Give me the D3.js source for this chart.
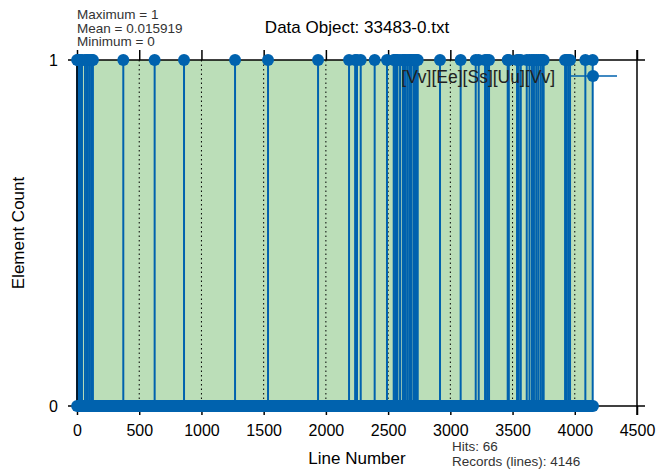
<!DOCTYPE html>
<html>
<head>
<meta charset="utf-8">
<script src="https://cdn.jsdelivr.net/npm/d3@7"></script>
<style>
  body { margin: 0; background: #fff; }
  text { font-family: "Liberation Sans", Arial, Helvetica, sans-serif; }
</style>
</head>
<body>
<svg></svg>
<script>
// line numbers where the element count is 1
const hitLines = [
  1, 8, 24, 40, 64, 80, 88, 104, 120, 128,
  372, 624, 860, 1270, 1535, 1937,
  2186, 2235, 2250, 2280, 2392, 2491,
  2545, 2556, 2565, 2575, 2596, 2618, 2628, 2637, 2653, 2669,
  2678, 2685, 2703, 2712, 2720, 2730, 2738,
  2917, 3083, 3204, 3228, 3279, 3295, 3311,
  3461, 3470, 3536, 3550, 3566, 3614, 3636, 3656, 3672, 3690, 3706, 3724, 3738, 3750,
  3922, 3935, 3948, 3962,
  4085, 4144
];
const recordCount = 4146;
const statLines = ['Maximum = 1', 'Mean = 0.015919', 'Minimum = 0'];
const infoLines = ['Hits: 66', 'Records (lines): 4146'];
const xTicks = [0, 500, 1000, 1500, 2000, 2500, 3000, 3500, 4000, 4500];
const yTicks = [0, 1];
const gridTicks = [500, 1000, 1500, 2000, 2500, 3000, 3500, 4000];

const [svgWidth, svgHeight] = [659, 473];
const [plotL, plotR, plotT, plotB] = [77, 637, 60, 406];
const blue = '#0062ae';
const svg = d3.select('svg')
  .attr('width', svgWidth)
  .attr('height', svgHeight);

const x = d3.scaleLinear().domain([0, 4500]).range([plotL, plotR]);
const y = d3.scaleLinear().domain([0, 1]).range([plotB, plotT]);

// green background for the record span
svg.append('rect')
  .attr('x', x(0))
  .attr('y', y(1))
  .attr('width', x(recordCount) - x(0))
  .attr('height', y(0) - y(1))
  .attr('fill', '#bbdeb8');

// dotted grid
svg.append('g').selectAll('line')
  .data(gridTicks)
  .join('line')
  .attr('x1', d => x(d)).attr('x2', d => x(d))
  .attr('y1', y(1)).attr('y2', y(0))
  .attr('stroke', '#000')
  .attr('stroke-width', 1)
  .attr('stroke-dasharray', '1.5,3');

// stems
svg.append('g').selectAll('line')
  .data(hitLines)
  .join('line')
  .attr('x1', d => x(d)).attr('x2', d => x(d))
  .attr('y1', y(0)).attr('y2', y(1))
  .attr('stroke', blue)
  .attr('stroke-width', 2);

// frame with outward ticks
const frame = svg.append('g').attr('stroke', '#000').attr('stroke-width', 1.5);
frame.append('line').attr('x1', plotL - 9).attr('x2', plotR + 8).attr('y1', plotT).attr('y2', plotT);
frame.append('line').attr('x1', plotL - 9).attr('x2', plotR + 8).attr('y1', plotB).attr('y2', plotB);
frame.append('line').attr('x1', plotL).attr('x2', plotL).attr('y1', plotT).attr('y2', plotB);
frame.append('line').attr('x1', plotR).attr('x2', plotR).attr('y1', plotT - 10).attr('y2', plotB + 9);

const xAxis = svg.append('g')
  .attr('transform', `translate(0, ${plotB})`)
  .call(d3.axisBottom(x).tickValues(xTicks).tickSize(9).tickSizeOuter(0)
    .tickPadding(10).tickFormat(d3.format('d')));
xAxis.select('.domain').remove();
xAxis.selectAll('line').attr('stroke-width', 1.5);
xAxis.selectAll('text').attr('font-size', 16).attr('fill', '#000');

const xTop = svg.append('g')
  .attr('transform', `translate(0, ${plotT})`)
  .call(d3.axisTop(x).tickValues(xTicks).tickSize(10).tickSizeOuter(0).tickFormat(''));
xTop.select('.domain').remove();
xTop.selectAll('line').attr('stroke-width', 1.5);

const yAxis = svg.append('g')
  .attr('transform', `translate(${plotL}, 0)`)
  .call(d3.axisLeft(y).tickValues(yTicks).tickSize(0).tickPadding(19).tickFormat(d3.format('d')));
yAxis.select('.domain').remove();
yAxis.selectAll('text').attr('font-size', 16).attr('fill', '#000');

// baseline markers (all zero-count records)
svg.append('line')
  .attr('x1', x(1)).attr('x2', x(recordCount))
  .attr('y1', y(0)).attr('y2', y(0))
  .attr('stroke', blue)
  .attr('stroke-width', 12)
  .attr('stroke-linecap', 'round');

// hit markers
svg.append('g').selectAll('circle')
  .data(hitLines)
  .join('circle')
  .attr('cx', d => x(d))
  .attr('cy', y(1))
  .attr('r', 6)
  .attr('fill', blue);

// legend
svg.append('line')
  .attr('x1', 570).attr('x2', 617).attr('y1', 76).attr('y2', 76)
  .attr('stroke', blue).attr('stroke-width', 1.5);
svg.append('circle').attr('cx', 593).attr('cy', 76).attr('r', 6).attr('fill', blue);
svg.append('text')
  .attr('x', 555).attr('y', 83)
  .attr('text-anchor', 'end')
  .attr('font-size', 17.5)
  .attr('fill', '#222')
  .text('[Vv][Ee][Ss][Uu][Vv]');

// titles
svg.append('text')
  .attr('x', 357).attr('y', 33)
  .attr('text-anchor', 'middle')
  .attr('font-size', 17)
  .text('Data Object: 33483-0.txt');
svg.append('text')
  .attr('x', 357).attr('y', 464)
  .attr('text-anchor', 'middle')
  .attr('font-size', 17)
  .text('Line Number');
svg.append('text')
  .attr('transform', `translate(24, ${(plotT + plotB) / 2}) rotate(-90)`)
  .attr('text-anchor', 'middle')
  .attr('font-size', 17)
  .text('Element Count');

svg.append('g').selectAll('text')
  .data(statLines)
  .join('text')
  .attr('x', 77)
  .attr('y', (d, i) => 19 + i * 13.5)
  .attr('font-size', 13.5)
  .attr('fill', '#333')
  .text(d => d);

svg.append('g').selectAll('text')
  .data(infoLines)
  .join('text')
  .attr('x', 452)
  .attr('y', (d, i) => 451 + i * 15)
  .attr('font-size', 13.5)
  .attr('fill', '#333')
  .text(d => d);
</script>
</body>
</html>
